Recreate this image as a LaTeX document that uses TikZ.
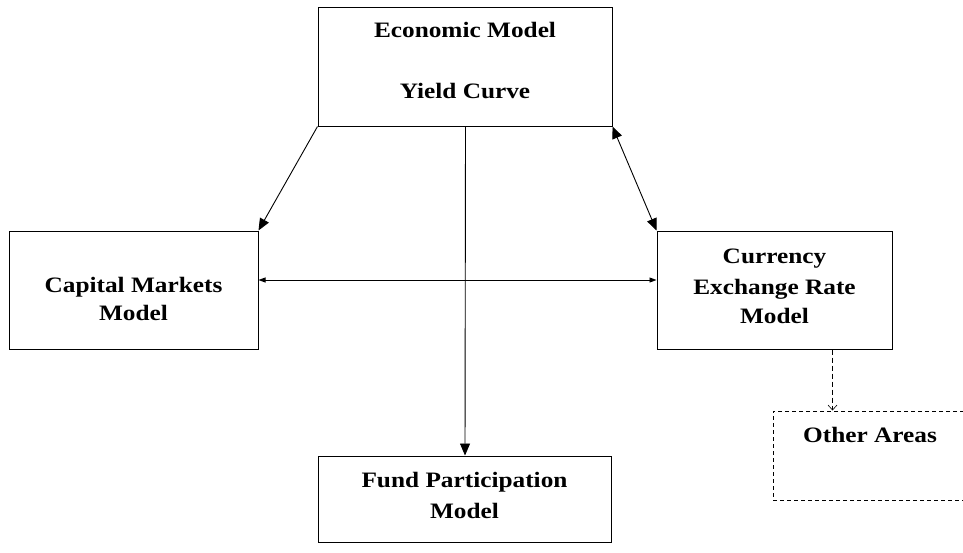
\documentclass[tikz,border=0pt]{standalone}
\usepackage{fontspec}
\setmainfont{Liberation Serif}[FakeStretch=1.15]
\usetikzlibrary{arrows.meta}
\begin{document}
\begin{tikzpicture}[x=1pt,y=-1pt,
  box/.style={draw=black,line width=1pt,rectangle,inner sep=0pt},
  dbox/.style={box,dash pattern=on 4pt off 3pt},
  lbl/.style={anchor=base,inner sep=0pt,font=\fontsize{22}{30}\selectfont\bfseries},
  conn/.style={draw=black,line width=0.9pt},
  bighead/.style={-{Triangle[length=12pt,width=10pt]}},
  twobig/.style={{Triangle[length=12pt,width=10pt]}-{Triangle[length=12pt,width=10pt]}},
  twosmall/.style={{Triangle[length=7pt,width=5pt]}-{Triangle[length=7pt,width=5pt]}},
  openhead/.style={-{Straight Barb[length=5pt,width=9pt,line width=0.6pt]}}]
\useasboundingbox (0,0) rectangle (963,552);
\clip (0,0) rectangle (963,552);
\fill[white] (0,0) rectangle (963,552);
% boxes
\node[box,minimum width=294pt,minimum height=119pt] (econ) at (465,66.5) {};
\node[box,minimum width=249pt,minimum height=118pt] (cap) at (133.5,290) {};
\node[box,minimum width=235pt,minimum height=118pt] (cur) at (774.5,290) {};
\node[box,minimum width=293pt,minimum height=86pt] (fund) at (464.5,499) {};
\node[dbox,minimum width=254pt,minimum height=89pt] (other) at (900,455.5) {};
% labels
\node[lbl] (t1) at (465,37) {Economic Model};
\node[lbl] (t2) at (465,98) {Yield Curve};
\node[lbl] (t3) at (133.5,292) {Capital Markets};
\node[lbl] (t4) at (133.5,320) {Model};
\node[lbl] (t5) at (774.5,263) {Currency};
\node[lbl] (t6) at (774.5,294) {Exchange Rate};
\node[lbl] (t7) at (774.5,323) {Model};
\node[lbl] (t8) at (464.5,487) {Fund Participation};
\node[lbl] (t9) at (464.5,518) {Model};
\node[lbl] (t10) at (870,442) {Other Areas};
% connectors
\draw[conn,bighead] (econ.south west) -- (cap.north east);
\draw[conn,twobig] (econ.south east) -- (cur.north west);
\draw[conn,bighead] ([xshift=0.5pt]econ.south) -- ([xshift=0.5pt]fund.north);
\draw[conn,twosmall] ([yshift=10pt]cap.east) -- ([yshift=10pt]cur.west);
\draw[conn,openhead,dash pattern=on 5pt off 3pt] ([xshift=58pt]cur.south) -- ([xshift=58pt]cur.south |- other.north);
\end{tikzpicture}
\end{document}
